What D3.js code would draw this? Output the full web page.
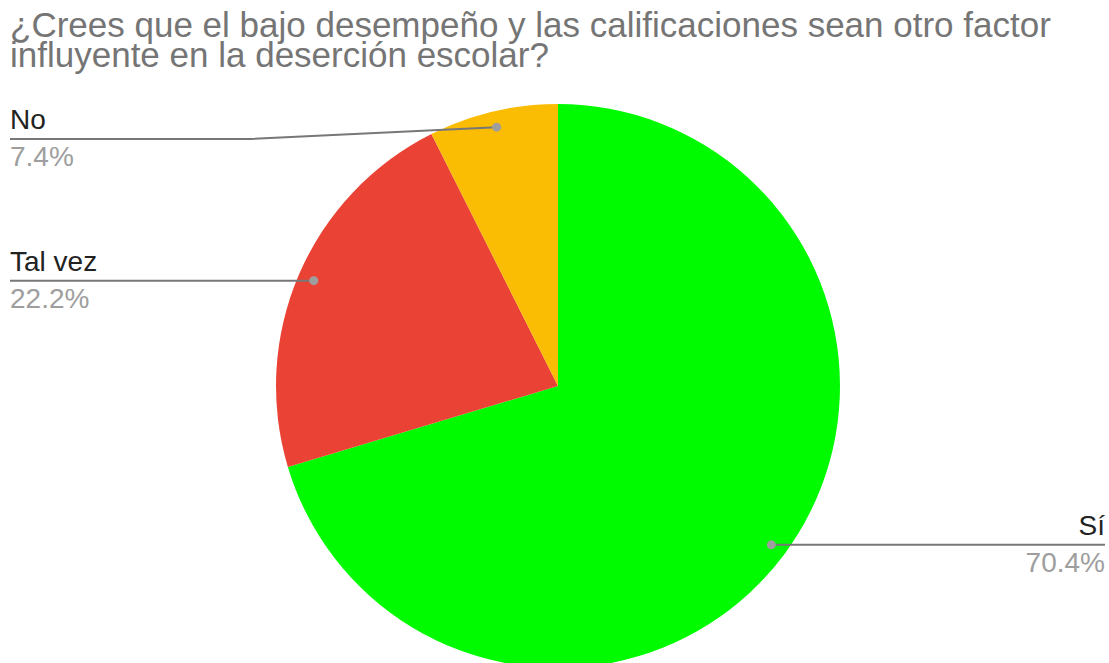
<!DOCTYPE html>
<html>
<head>
<meta charset="utf-8">
<script src="https://cdn.jsdelivr.net/npm/d3@7"></script>
<style>
  html, body { margin: 0; padding: 0; background: #fff; }
  svg { display: block; font-family: "Liberation Sans", Arial, sans-serif; }
</style>
</head>
<body>
<svg id="chart" width="1109" height="663"></svg>
<script>
// Survey responses
const categories = ["Sí", "Tal vez", "No"];
const values = [19, 6, 2];
const percentLabels = ["70.4%", "22.2%", "7.4%"];
const colors = ["#00fb00", "#ea4335", "#fbbc04"];
const titleLines = [
  "¿Crees que el bajo desempeño y las calificaciones sean otro factor",
  "influyente en la deserción escolar?"
];

const W = 1109, H = 663;
const cx = 558, cy = 386, R = 282;
const svg = d3.select("#chart");

// Title
svg.append("text")
  .attr("x", 10).attr("y", 37)
  .attr("fill", "#757575")
  .attr("font-size", 35)
  .selectAll("tspan").data(titleLines).join("tspan")
  .attr("x", 10)
  .attr("dy", (d, i) => i === 0 ? 0 : 30)
  .text(d => d);

const pie = d3.pie().sort(null).value(d => d)(values);
const arc = d3.arc().innerRadius(0).outerRadius(R);
const dotArc = d3.arc().innerRadius(266).outerRadius(266);

const g = svg.append("g").attr("transform", `translate(${cx},${cy})`);
g.selectAll("path").data(pie).join("path")
  .attr("d", arc)
  .attr("fill", (d, i) => colors[i]);

// Label layout: side and text anchor per slice
const layout = [
  { side: "right", x: 1105 },
  { side: "left", x: 10 },
  { side: "left", x: 10, lineY: 139, bendX: 250 }
];

const labels = svg.append("g");
pie.forEach((d, i) => {
  const c = dotArc.centroid(d);
  const px = cx + c[0], py = cy + c[1];
  const L = layout[i];
  const ly = L.lineY !== undefined ? L.lineY : py;
  let pts;
  if (L.bendX !== undefined) pts = [[px, py], [L.bendX, ly], [L.x, ly]];
  else pts = [[px, py], [L.x, ly]];
  labels.append("path")
    .attr("d", d3.line()(pts))
    .attr("fill", "none")
    .attr("stroke", "#777")
    .attr("stroke-width", 2);
  labels.append("circle")
    .attr("cx", px).attr("cy", py).attr("r", 4.5)
    .attr("fill", "#9e9e9e");
  const anchor = L.side === "right" ? "end" : "start";
  labels.append("text")
    .attr("x", L.x).attr("y", ly - 10)
    .attr("text-anchor", anchor)
    .attr("font-size", 28)
    .attr("fill", "#222")
    .text(categories[i]);
  labels.append("text")
    .attr("x", L.x).attr("y", ly + 27)
    .attr("text-anchor", anchor)
    .attr("font-size", 28)
    .attr("fill", "#9e9e9e")
    .text(percentLabels[i]);
});
</script>
</body>
</html>
